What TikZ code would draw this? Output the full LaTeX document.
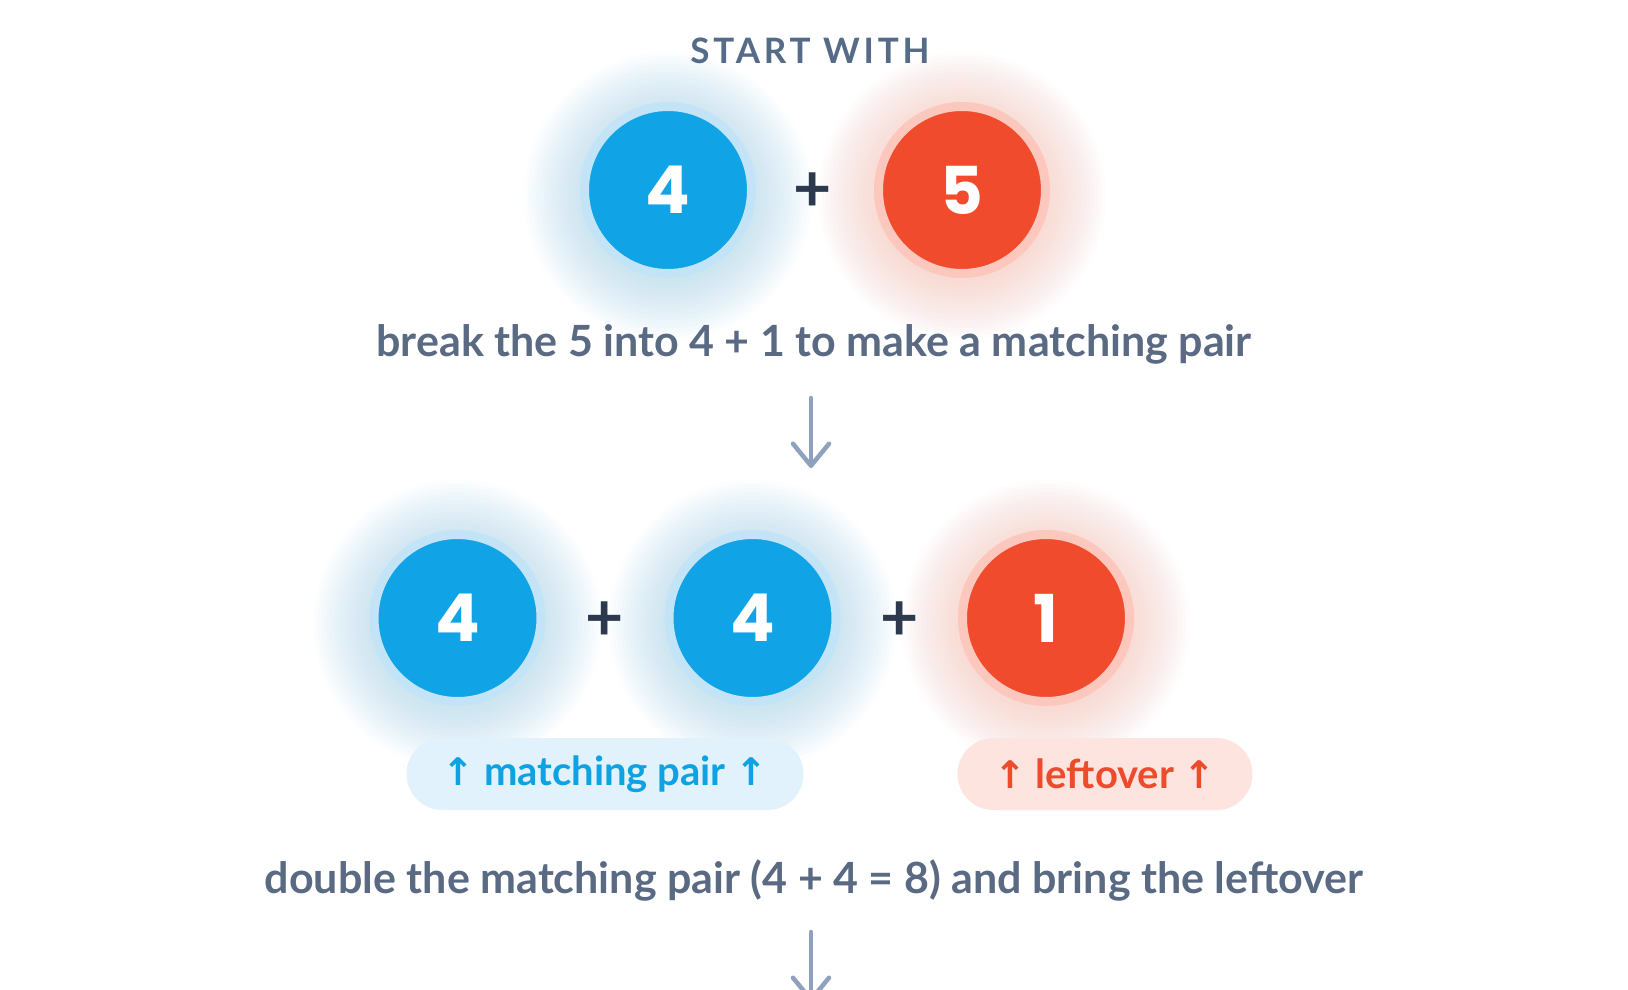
\documentclass[tikz,border=0pt]{standalone}
\usepackage{fontspec}
\setmainfont{Lato}
\newfontfamily\digitfont{Poppins}
\newfontfamily\capsfont[LetterSpace=11]{Lato}
\newfontfamily\symfont{DejaVu Sans}
\usetikzlibrary{arrows.meta,calc}
\definecolor{slate}{HTML}{5A6A83}
\definecolor{capc}{HTML}{566B88}
\definecolor{bluec}{HTML}{10A3E5}
\definecolor{bluering}{HTML}{C3E4F7}
\definecolor{blueglow}{HTML}{6CC2F0}
\definecolor{redc}{HTML}{F04B2D}
\definecolor{redring}{HTML}{FCC7BC}
\definecolor{redglow}{HTML}{F99A86}
\definecolor{plusc}{HTML}{2D3A4D}
\definecolor{arrc}{HTML}{8FA2BD}
\definecolor{pillblue}{HTML}{E2F2FC}
\definecolor{pillred}{HTML}{FDE4DE}
\definecolor{bluetext}{HTML}{0EA2E2}
\definecolor{redtext}{HTML}{EE4A2C}
\tikzset{
  ball/.style={circle, minimum size=167pt, inner sep=0pt, draw=#1ring, line width=9pt, fill=#1c, text=white,
    font=\digitfont\bfseries\fontsize{66}{66}\selectfont},
  plussign/.style={text=plusc, font=\bfseries\fontsize{66}{66}\selectfont, inner sep=0pt},
  caption/.style={text=slate, font=\bfseries\fontsize{43}{50}\selectfont, inner sep=0pt},
  pill/.style={rounded corners=36pt, minimum height=72pt, inner sep=0pt, fill=pill#1, text=#1text,
    font=\bfseries\fontsize{40}{44}\selectfont},
  arr/.style={draw=arrc, line width=4.5pt, line cap=round, -{Straight Barb[round, length=22pt, width=36pt]}},
}
\newcommand{\glowat}[2]{%
  \foreach \r in {88,92,...,144}{\fill[#2, opacity=0.022] ($(#1)+(0,6)$) circle (\r pt);}}
\newcommand{\uparr}{{\symfont\bfseries\fontsize{38}{38}\selectfont↑}}
\begin{document}
\begin{tikzpicture}[x=1pt,y=-1pt]
\path[use as bounding box, fill=white] (0,0) rectangle (1628,990);
% glows
\glowat{668,190}{blueglow}
\glowat{962,190}{redglow}
\glowat{457.5,618}{blueglow}
\glowat{752.5,618}{blueglow}
\glowat{1046,618}{redglow}
% title
\node[text=capc, font=\capsfont\bfseries\fontsize{35}{35}\selectfont, inner sep=0pt] (t0) at (810,51) {START WITH};
% row 1
\node[ball=blue] (c1) at (668,190) {4};
\node[plussign] (p1) at (813,192) {+};
\node[ball=red] (c2) at (962,190) {5};
\node[caption] (t1) at (814,344) {break the 5 into 4 + 1 to make a matching pair};
\coordinate (a1s) at (811,398);
\coordinate (a1e) at (811,468);
\draw[arr] (a1s) -- (a1e);
% row 2
\node[ball=blue] (d1) at (457.5,618) {4};
\node[plussign] (p2) at (605,621) {+};
\node[ball=blue] (d2) at (752.5,618) {4};
\node[plussign] (p3) at (900,621) {+};
\node[ball=red] (d3) at (1046,618) {1};
\node[pill=blue, minimum width=397pt] (m1) at (605,774) {\uparr\ matching pair \uparr};
\node[pill=red, minimum width=295pt] (m2) at (1105,774) {\uparr\ leftover \uparr};
\node[caption] (t2) at (814,880) {double the matching pair (4 + 4 = 8) and bring the leftover};
\coordinate (a2s) at (811,932);
\coordinate (a2e) at (811,1002);
\draw[arr] (a2s) -- (a2e);
\end{tikzpicture}
\end{document}
